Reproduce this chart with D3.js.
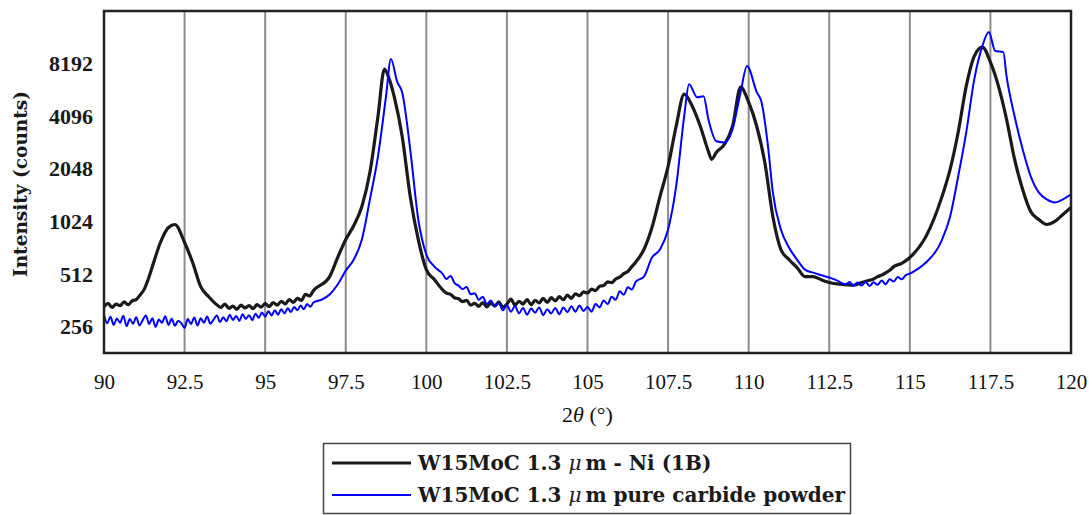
<!DOCTYPE html>
<html>
<head>
<meta charset="utf-8">
<script src="https://cdn.jsdelivr.net/npm/d3@7"></script>
<style>
  body { margin: 0; background: #fff; }
  svg { display: block; }
</style>
</head>
<body>
<div id="chart"></div>
<script>
// [2theta (deg), intensity (counts)]
const niScan = [
  [90, 333], [90.125, 348], [90.25, 330], [90.375, 345], [90.5, 338], [90.625, 355], [90.75, 342], [90.875, 360],
  [91, 366], [91.125, 390], [91.25, 420], [91.375, 480], [91.5, 565], [91.75, 776], [92, 946], [92.2, 984],
  [92.5, 776], [92.75, 596], [93, 434], [93.25, 380], [93.5, 342], [93.625, 330], [93.75, 345], [93.875, 326],
  [94, 336], [94.125, 322], [94.25, 340], [94.375, 328], [94.5, 338], [94.625, 325], [94.75, 343], [94.875, 331],
  [95, 347], [95.125, 334], [95.25, 352], [95.375, 340], [95.5, 358], [95.625, 346], [95.75, 366], [95.875, 352],
  [96, 372], [96.125, 362], [96.25, 392], [96.375, 384], [96.5, 412], [97, 495], [97.25, 637], [97.5, 807],
  [97.75, 971], [98, 1248], [98.25, 1956], [98.5, 4096], [98.7, 7619], [98.85, 6676], [99, 5335], [99.25, 3146],
  [99.5, 1425], [99.75, 807], [100, 543], [100.25, 476],
  [100.5, 417], [100.625, 398], [100.75, 392], [100.875, 375], [101, 370], [101.125, 356], [101.25, 362], [101.375, 340],
  [101.5, 348], [101.625, 335], [101.75, 352], [101.875, 332], [102, 350], [102.125, 336], [102.25, 355], [102.375, 330],
  [102.5, 345], [102.625, 368], [102.75, 340], [102.875, 358], [103, 345], [103.125, 366], [103.25, 342], [103.375, 362],
  [103.5, 350], [103.625, 372], [103.75, 352], [103.875, 375], [104, 360], [104.125, 380], [104.25, 365], [104.375, 388],
  [104.5, 372], [104.625, 395], [104.75, 385], [104.875, 405], [105, 398], [105.125, 420], [105.25, 412], [105.375, 436],
  [105.5, 440], [105.625, 462], [105.75, 458], [105.875, 480], [106, 492], [106.125, 515], [106.25, 530], [106.375, 565],
  [106.5, 600], [106.75, 708], [107, 946], [107.25, 1425], [107.5, 2117], [107.75, 3590], [108, 5476], [108.25, 4675],
  [108.5, 3590], [108.75, 2580], [108.85, 2322], [109, 2546], [109.25, 2831], [109.5, 3590], [109.75, 6006], [110, 4928],
  [110.25, 3590], [110.5, 2232], [110.75, 1094], [111, 708], [111.25, 620], [111.5, 558], [111.75, 495],
  [112, 495], [112.25, 475], [112.5, 458], [112.75, 450], [113, 446], [113.25, 442], [113.5, 458], [113.625, 465],
  [113.75, 472], [113.875, 480], [114, 495], [114.125, 505], [114.25, 520], [114.375, 538], [114.5, 565], [114.75, 590],
  [115, 637], [115.5, 840], [116, 1425], [116.25, 2034], [116.5, 3315], [116.75, 6086], [117, 9045], [117.25, 10187],
  [117.5, 8356], [117.75, 6086], [118, 3937], [118.25, 2322], [118.5, 1562], [118.75, 1168], [119, 1051], [119.25, 984],
  [119.5, 1024], [119.75, 1123], [120, 1232]
];

const powderScan = [
  [90, 300], [90.1, 268], [90.2, 292], [90.3, 262], [90.4, 285], [90.5, 270], [90.6, 296], [90.7, 258],
  [90.8, 283], [90.9, 266], [91, 290], [91.1, 260], [91.2, 279], [91.3, 297], [91.4, 265], [91.5, 286],
  [91.6, 255], [91.7, 281], [91.8, 270], [91.9, 294], [92, 262], [92.1, 284], [92.2, 259], [92.3, 277],
  [92.4, 268], [92.5, 252], [92.6, 283], [92.7, 265], [92.8, 289], [92.9, 260], [93, 286], [93.1, 270],
  [93.2, 293], [93.3, 266], [93.4, 281], [93.5, 297], [93.6, 272], [93.7, 290], [93.8, 275], [93.9, 300],
  [94, 280], [94.1, 295], [94.2, 276], [94.3, 302], [94.4, 283], [94.5, 298], [94.6, 279], [94.7, 304],
  [94.8, 288], [94.9, 309], [95, 292], [95.1, 314], [95.2, 297], [95.3, 318], [95.4, 300], [95.5, 322],
  [95.6, 305], [95.7, 326], [95.8, 311], [95.9, 332], [96, 318], [96.1, 338], [96.2, 322], [96.3, 345],
  [96.4, 333], [96.5, 352], [96.75, 365], [97, 391], [97.25, 446], [97.5, 536], [97.75, 620], [98, 807],
  [98.25, 1369], [98.5, 2416], [98.75, 5335], [98.9, 8694], [99.1, 6418], [99.25, 5622], [99.5, 2649], [99.75, 1051],
  [100, 662], [100.25, 565],
  [100.5, 515], [100.625, 480], [100.75, 500], [100.875, 455], [101, 440], [101.125, 420], [101.25, 432], [101.375, 392],
  [101.5, 398], [101.625, 365], [101.75, 380], [101.875, 345], [102, 362], [102.125, 335], [102.25, 350], [102.375, 318],
  [102.5, 340], [102.625, 312], [102.75, 336], [102.875, 305], [103, 328], [103.125, 300], [103.25, 325], [103.375, 308],
  [103.5, 330], [103.625, 298], [103.75, 322], [103.875, 305], [104, 328], [104.125, 302], [104.25, 330], [104.375, 310],
  [104.5, 335], [104.625, 312], [104.75, 338], [104.875, 315], [105, 332], [105.125, 312], [105.25, 345], [105.375, 330],
  [105.5, 362], [105.625, 345], [105.75, 380], [105.875, 365], [106, 408], [106.125, 390], [106.25, 430], [106.375, 418],
  [106.5, 464], [106.75, 495], [107, 637], [107.25, 708], [107.5, 921], [107.75, 1625], [108, 4096], [108.15, 6251],
  [108.4, 5264], [108.6, 5335], [108.75, 3937], [109, 2945], [109.25, 2900], [109.5, 3450], [109.75, 5622], [109.95, 7926],
  [110.25, 5622], [110.4, 4928], [110.6, 2757], [110.75, 1501], [111, 921], [111.25, 727], [111.5, 620], [111.75, 543],
  [112, 522], [112.25, 505], [112.5, 489], [112.75, 470], [113, 446], [113.125, 462], [113.25, 438], [113.375, 458],
  [113.5, 440], [113.625, 462], [113.75, 438], [113.875, 460], [114, 445], [114.125, 470], [114.25, 448], [114.375, 478],
  [114.5, 464], [114.625, 492], [114.75, 478], [114.875, 505], [115, 515], [115.25, 548], [115.5, 596], [116, 807],
  [116.25, 1094], [116.5, 1855], [116.75, 3315], [117, 6676], [117.25, 10322], [117.45, 12417], [117.65, 9662], [117.9, 9534],
  [118, 6945], [118.25, 4096], [118.5, 2649], [118.75, 1855], [119, 1501], [119.25, 1369], [119.5, 1316], [119.75, 1369],
  [120, 1463]
];

const xTicks = [90, 92.5, 95, 97.5, 100, 102.5, 105, 107.5, 110, 112.5, 115, 117.5, 120];
const yTicks = [256, 512, 1024, 2048, 4096, 8192];
const seriesNames = [['W15MoC 1.3 ', 'm - Ni (1B)'], ['W15MoC 1.3 ', 'm pure carbide powder']];
const seriesColors = ['#1a1a1a', '#0000ff'];

const W = 1089, H = 515;
const plot = { left: 104, right: 1071, top: 11, bottom: 353 };
const serif = '"Liberation Serif", serif';
const wideSerif = '"DejaVu Serif", serif';

const svg = d3.select('#chart').append('svg')
  .attr('width', W)
  .attr('height', H);

const x = d3.scaleLinear().domain([90, 120]).range([plot.left, plot.right]);
const y = d3.scaleLog().base(2).domain([Math.pow(2, 7.5), Math.pow(2, 14)]).range([plot.bottom, plot.top]);

// vertical grid
svg.append('g')
  .selectAll('line')
  .data(xTicks.slice(1, -1))
  .join('line')
  .attr('x1', d => x(d)).attr('x2', d => x(d))
  .attr('y1', plot.top).attr('y2', plot.bottom)
  .attr('stroke', '#8c8c8c')
  .attr('stroke-width', 2);

svg.append('defs').append('clipPath').attr('id', 'clip')
  .append('rect')
  .attr('x', plot.left).attr('y', plot.top)
  .attr('width', plot.right - plot.left).attr('height', plot.bottom - plot.top);

const line = d3.line()
  .curve(d3.curveMonotoneX)
  .x(d => x(d[0]))
  .y(d => y(d[1]));

const series = [
  { pts: niScan, color: seriesColors[0], width: 3.2 },
  { pts: powderScan, color: seriesColors[1], width: 2 },
];

svg.append('g').attr('clip-path', 'url(#clip)')
  .selectAll('path')
  .data(series)
  .join('path')
  .attr('fill', 'none')
  .attr('stroke', d => d.color)
  .attr('stroke-width', d => d.width)
  .attr('stroke-linejoin', 'round')
  .attr('d', d => line(d.pts));

// frame
svg.append('rect')
  .attr('x', plot.left).attr('y', plot.top)
  .attr('width', plot.right - plot.left).attr('height', plot.bottom - plot.top)
  .attr('fill', 'none')
  .attr('stroke', '#222')
  .attr('stroke-width', 2.5);

// axes (labels only, no tick marks)
const yAxis = svg.append('g')
  .attr('transform', `translate(${plot.left},0)`)
  .call(d3.axisLeft(y).tickValues(yTicks).tickSize(0).tickPadding(11).tickFormat(d3.format('d')));
yAxis.select('.domain').remove();
yAxis.selectAll('text')
  .attr('font-family', serif)
  .attr('font-weight', 'bold')
  .attr('font-size', 22)
  .attr('fill', '#1a1a1a');

const xAxis = svg.append('g')
  .attr('transform', `translate(0,${plot.bottom})`)
  .call(d3.axisBottom(x).tickValues(xTicks).tickSize(0).tickPadding(21).tickFormat(d => d));
xAxis.select('.domain').remove();
xAxis.selectAll('text')
  .attr('font-family', serif)
  .attr('font-size', 21)
  .attr('fill', '#111');

// axis titles
svg.append('text')
  .attr('transform', `translate(27,${(plot.top + plot.bottom) / 2 + 2}) rotate(-90)`)
  .attr('text-anchor', 'middle')
  .attr('font-family', wideSerif)
  .attr('font-weight', 'bold')
  .attr('font-size', 18.5)
  .attr('fill', '#1a1a1a')
  .text('Intensity (counts)');

const xt = svg.append('text')
  .attr('x', (plot.left + plot.right) / 2)
  .attr('y', 422)
  .attr('text-anchor', 'middle')
  .attr('font-family', serif)
  .attr('font-size', 22)
  .attr('fill', '#111');
xt.append('tspan').text('2');
xt.append('tspan').attr('font-style', 'italic').text('θ');
xt.append('tspan').text(' (°)');

// legend
const legend = svg.append('g');
legend.append('rect')
  .attr('x', 323.5).attr('y', 443.5)
  .attr('width', 527).attr('height', 70)
  .attr('fill', '#fff')
  .attr('stroke', '#444')
  .attr('stroke-width', 1.5);

seriesNames.forEach((parts, i) => {
  const ly = 463 + i * 32;
  legend.append('line')
    .attr('x1', 332).attr('x2', 411)
    .attr('y1', ly).attr('y2', ly)
    .attr('stroke', seriesColors[i])
    .attr('stroke-width', i === 0 ? 3 : 2);
  const t = legend.append('text')
    .attr('x', 418).attr('y', ly + 7)
    .attr('font-family', wideSerif)
    .attr('font-weight', 'bold')
    .attr('font-size', 20)
    .attr('fill', '#1a1a1a');
  t.append('tspan').text(parts[0]);
  t.append('tspan').attr('font-style', 'italic').attr('font-weight', 'normal').text('μ');
  t.append('tspan').text('\u2009' + parts[1]);
});
</script>
</body>
</html>
